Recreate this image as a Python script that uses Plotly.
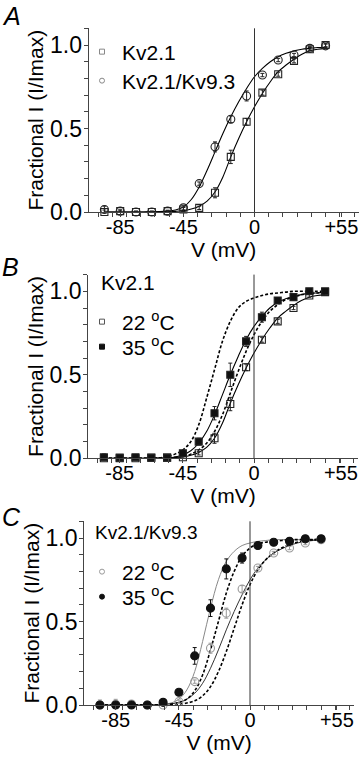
import plotly.graph_objects as go

# ---------------- data ----------------
V = [-95, -85, -75, -65, -55, -45, -35, -25, -15, -5, 5, 15, 25, 35, 45]
V_FIT = list(range(-95, 50, 5))

# Panel A
A_kv21 = [0.0, 0.005, 0.0, 0.0, 0.005, 0.015, 0.025, 0.115, 0.33, 0.54, 0.715, 0.825, 0.905, 0.975, 1.0]
A_kv21_err = [0.012, 0.006, 0.005, 0.005, 0.005, 0.012, 0.01, 0.03, 0.04, 0.02, 0.015, 0.012, 0.012, 0.01, 0.01]
A_kv93 = [0.015, 0.005, 0.0, 0.0, 0.005, 0.025, 0.17, 0.39, 0.555, 0.695, 0.82, 0.91, 0.94, 0.98, 0.995]
A_kv93_err = [0.02, 0.008, 0.005, 0.005, 0.005, 0.012, 0.01, 0.03, 0.02, 0.03, 0.01, 0.01, 0.01, 0.01, 0.01]
A_fit_kv21 = [0, 0, 0, 0, 0, 0, 0.001, 0.001, 0.002, 0.004, 0.008, 0.018, 0.035, 0.065, 0.12, 0.21, 0.33,
              0.44, 0.54, 0.63, 0.71, 0.78, 0.84, 0.88, 0.915, 0.945, 0.965, 0.975, 0.98]
A_fit_kv93 = [0, 0, 0, 0, 0, 0, 0.001, 0.002, 0.005, 0.012, 0.03, 0.075, 0.15, 0.25, 0.36, 0.47, 0.57,
              0.66, 0.74, 0.81, 0.86, 0.9, 0.93, 0.95, 0.965, 0.975, 0.98, 0.985, 0.985]

# Panel B (Kv2.1)
B_22 = [0.0, 0.0, 0.0, 0.004, 0.004, 0.006, 0.03, 0.12, 0.325, 0.545, 0.71, 0.82, 0.90, 0.975, 0.995]
B_22_err = [0.01, 0.005, 0.005, 0.005, 0.005, 0.01, 0.01, 0.03, 0.04, 0.02, 0.015, 0.012, 0.01, 0.01, 0.01]
B_35 = [0.006, 0.004, 0.006, 0.003, 0.004, 0.03, 0.10, 0.27, 0.50, 0.70, 0.845, 0.945, 0.965, 1.0, 1.0]
B_35_err = [0.02, 0.01, 0.01, 0.005, 0.005, 0.01, 0.02, 0.04, 0.07, 0.03, 0.03, 0.015, 0.01, 0.01, 0.01]
B_fit_22 = A_fit_kv21
B_fit_35 = [0, 0, 0, 0, 0, 0, 0, 0.001, 0.003, 0.008, 0.02, 0.045, 0.09, 0.16, 0.26, 0.38, 0.5,
            0.61, 0.71, 0.79, 0.85, 0.9, 0.935, 0.955, 0.97, 0.98, 0.99, 0.99, 0.995]
B_fit_35d = [0, 0, 0, 0, 0, 0, 0.001, 0.003, 0.01, 0.025, 0.05, 0.1, 0.2, 0.36, 0.53, 0.7, 0.82,
             0.9, 0.94, 0.96, 0.975, 0.985, 0.99, 0.995, 1.0, 1.0, 1.0, 1.0, 1.0]
B_fit_22d = [0, 0, 0, 0, 0, 0, 0, 0.001, 0.003, 0.006, 0.012, 0.025, 0.05, 0.09, 0.16, 0.26, 0.39,
             0.52, 0.64, 0.74, 0.82, 0.88, 0.92, 0.95, 0.965, 0.98, 0.985, 0.99, 0.995]

# Panel C (Kv2.1/Kv9.3)
C_22 = [0.0, 0.004, 0.006, 0.0, 0.0, 0.02, 0.14, 0.34, 0.55, 0.695, 0.82, 0.91, 0.94, 0.97, 0.99]
C_22_err = [0.03, 0.03, 0.02, 0.01, 0.01, 0.01, 0.01, 0.03, 0.03, 0.02, 0.01, 0.01, 0.01, 0.01, 0.01]
C_35 = [0.0, 0.0, 0.0, 0.0, 0.016, 0.076, 0.294, 0.58, 0.815, 0.88, 0.955, 0.975, 0.98, 0.995, 0.995]
C_35_err = [0.005, 0.005, 0.005, 0.005, 0.01, 0.01, 0.05, 0.05, 0.06, 0.03, 0.01, 0.01, 0.01, 0.01, 0.01]
C_fit_35 = [0, 0, 0, 0, 0, 0, 0, 0.001, 0.004, 0.012, 0.035, 0.09, 0.2, 0.38, 0.58, 0.75, 0.86,
            0.92, 0.955, 0.97, 0.98, 0.985, 0.99, 0.99, 0.99, 0.99, 0.99, 0.99, 0.99]
C_fit_35d = [0, 0, 0, 0, 0, 0, 0, 0, 0.002, 0.005, 0.015, 0.035, 0.085, 0.18, 0.33, 0.5, 0.67,
             0.8, 0.89, 0.94, 0.965, 0.975, 0.98, 0.985, 0.99, 0.99, 0.99, 0.99, 0.99]
C_fit_22 = [0, 0, 0, 0, 0, 0, 0, 0.001, 0.003, 0.007, 0.015, 0.035, 0.07, 0.13, 0.22, 0.33, 0.45,
            0.56, 0.66, 0.75, 0.82, 0.87, 0.91, 0.935, 0.955, 0.97, 0.98, 0.985, 0.99]
C_fit_22d = [0, 0, 0, 0, 0, 0, 0, 0, 0.001, 0.003, 0.006, 0.012, 0.025, 0.055, 0.11, 0.2, 0.32,
             0.46, 0.6, 0.72, 0.81, 0.87, 0.91, 0.94, 0.96, 0.975, 0.985, 0.99, 0.99]

X_TICKS = [-85, -45, 0, 55]
X_TICKTEXT = ["-85", "-45", "0", "+55"]
Y_TICKS = [0, 0.5, 1.0]
Y_TICKTEXT = ["0.0", "0.5", "1.0"]

# ---------------- layout geometry ----------------
OFF = 0            # page body margin is removed by the post script below
W, H = 360, 759
PX_PER_MV = 1.58
XR = [-105, 66]
PX_PER_UNIT = 167
YR = [0, 1.1]
FONT = "Liberation Sans, Arial, Helvetica, sans-serif"


def px(xw):
    return (xw - OFF) / W


def py(yw):
    return 1 - (yw - OFF) / H


panels = [
    dict(zero_px=254.5, base_px=212.0),
    dict(zero_px=254.0, base_px=458.3),
    dict(zero_px=250.0, base_px=705.0),
]

fig = go.Figure()


def ax(i):
    return "" if i == 1 else str(i)


def xdom(zero_px):
    left = zero_px + XR[0] * PX_PER_MV
    right = zero_px + XR[1] * PX_PER_MV
    return [px(left), min(1.0, px(right))]


def ydom(base_px):
    top = base_px - YR[1] * PX_PER_UNIT
    return [py(base_px), py(top)]


def add_fit(i, y, dash="solid", color="black", width=1.1):
    fig.add_trace(go.Scatter(x=V_FIT, y=y, mode="lines", xaxis=f"x{ax(i)}", yaxis=f"y{ax(i)}",
                             line=dict(color=color, width=width, dash=dash, shape="spline", smoothing=1.0),
                             showlegend=False, hoverinfo="skip", cliponaxis=False))


def add_pts(i, y, err, symbol, color="#222", fill=None, size=7):
    fig.add_trace(go.Scatter(x=V, y=y, mode="markers", xaxis=f"x{ax(i)}", yaxis=f"y{ax(i)}",
                             marker=dict(symbol=symbol, size=size, color=fill or color,
                                         line=dict(color=color, width=1.1)),
                             error_y=dict(type="data", array=err, visible=True, thickness=1,
                                          width=2, color=color),
                             showlegend=False, cliponaxis=False))


legend_font = dict(family=FONT, size=21, color="black")
legend_items = []


def add_legend(i, name, symbol, color, ycenter):
    key = "legend" if not legend_items else f"legend{len(legend_items) + 1}"
    legend_items.append((key, ycenter))
    fig.add_trace(go.Scatter(x=[None], y=[None], mode="markers", xaxis=f"x{ax(i)}", yaxis=f"y{ax(i)}",
                             name=name, legend=key,
                             marker=dict(symbol=symbol, size=5, color=color,
                                         line=dict(color=color, width=1))))


# Panel A
add_fit(1, A_fit_kv21)
add_fit(1, A_fit_kv93)
add_pts(1, A_kv21, A_kv21_err, "square-open")
add_pts(1, A_kv93, A_kv93_err, "circle-open", size=8)
add_legend(1, "Kv2.1", "square-open", "#888", 52)
add_legend(1, "Kv2.1/Kv9.3", "circle-open", "#888", 81)

# Panel B
add_fit(2, B_fit_22)
add_fit(2, B_fit_35)
add_fit(2, B_fit_35d, dash="3px,2px", width=1.6)
add_fit(2, B_fit_22d, dash="3px,2px", width=1.6)
add_pts(2, B_22, B_22_err, "square-open")
add_pts(2, B_35, B_35_err, "square", fill="#111")
add_legend(2, "22 <sup>o</sup>C", "square-open", "#555", 322)
add_legend(2, "35 <sup>o</sup>C", "square", "#111", 347)

# Panel C
add_fit(3, C_fit_35, color="#888", width=1.0)
add_fit(3, C_fit_22, color="#333", width=1.0)
add_fit(3, C_fit_35d, dash="3px,2px", width=1.6)
add_fit(3, C_fit_22d, dash="3px,2px", width=1.6)
add_pts(3, C_22, C_22_err, "circle-open", color="#999", size=8)
add_pts(3, C_35, C_35_err, "circle", fill="#111", color="#111", size=8)
add_legend(3, "22 <sup>o</sup>C", "circle-open", "#999", 572)
add_legend(3, "35 <sup>o</sup>C", "circle", "#111", 597)

xtick_font = dict(family=FONT, size=20, color="black")
ytick_font = dict(family=FONT, size=23, color="black")
title_font = dict(family=FONT, size=21, color="black")
layout = dict(
    width=W, height=H, margin=dict(l=0, r=0, t=0, b=0, autoexpand=False),
    paper_bgcolor="white", plot_bgcolor="white",
    font=title_font, showlegend=True,
)

for i, p in enumerate(panels, start=1):
    sfx = ax(i)
    layout[f"xaxis{sfx}"] = dict(
        domain=xdom(p["zero_px"]), range=XR, anchor=f"y{sfx}", automargin=False,
        tickvals=X_TICKS, ticktext=X_TICKTEXT, ticks="outside", ticklen=4, tickwidth=1,
        tickcolor="#444", showline=True, linecolor="#444", linewidth=1, showgrid=False,
        zeroline=False, tickfont=xtick_font, ticklabelstandoff=-7,
        minor=dict(ticks="outside", ticklen=4, tickcolor="#444", dtick=9, tick0=0, showgrid=False),
        title=dict(text="V (mV)", font=title_font, standoff=0),
    )
    layout[f"yaxis{sfx}"] = dict(
        domain=ydom(p["base_px"]), range=YR, anchor=f"x{sfx}", automargin=False,
        tickvals=Y_TICKS, ticktext=Y_TICKTEXT, ticks="outside", ticklen=4, tickwidth=1,
        tickcolor="#444", showline=True, linecolor="#444", linewidth=1, showgrid=False,
        zeroline=False, tickfont=ytick_font, ticklabelstandoff=-3,
        minor=dict(ticks="outside", ticklen=4, tickcolor="#444", dtick=0.1, tick0=0, showgrid=False),
        title=dict(text="Fractional I (I/Imax)", font=title_font, standoff=0),
    )

for key, yc in legend_items:
    layout[key] = dict(x=px(82), y=py(yc), xanchor="left", yanchor="middle",
                       font=legend_font, bgcolor="rgba(0,0,0,0)", itemsizing="trace")

fig.update_layout(**layout)

# zero-voltage reference lines
for i in (1, 2, 3):
    fig.add_shape(type="line", xref=f"x{ax(i)}", yref=f"y{ax(i)} domain", x0=0, x1=0, y0=0, y1=1,
                  line=dict(color="#333", width=1))

# panel letters and headings
letters = [("A", 16), ("B", 267), ("C", 517)]
for t, ypx in letters:
    fig.add_annotation(text=f"<i>{t}</i>", xref="paper", yref="paper", x=px(0), y=py(ypx),
                       xanchor="left", yanchor="middle", showarrow=False,
                       font=dict(family=FONT, size=25, color="black"))
fig.add_annotation(text="Kv2.1", xref="paper", yref="paper", x=px(99), y=py(282),
                   xanchor="left", yanchor="middle", showarrow=False, font=legend_font)
fig.add_annotation(text="Kv2.1/Kv9.3", xref="paper", yref="paper", x=px(93), y=py(532),
                   xanchor="left", yanchor="middle", showarrow=False,
                   font=dict(family=FONT, size=19, color="black"))

fig.write_html("out.html", config={"displayModeBar": False},
               post_script="document.body.style.margin='0px';")
